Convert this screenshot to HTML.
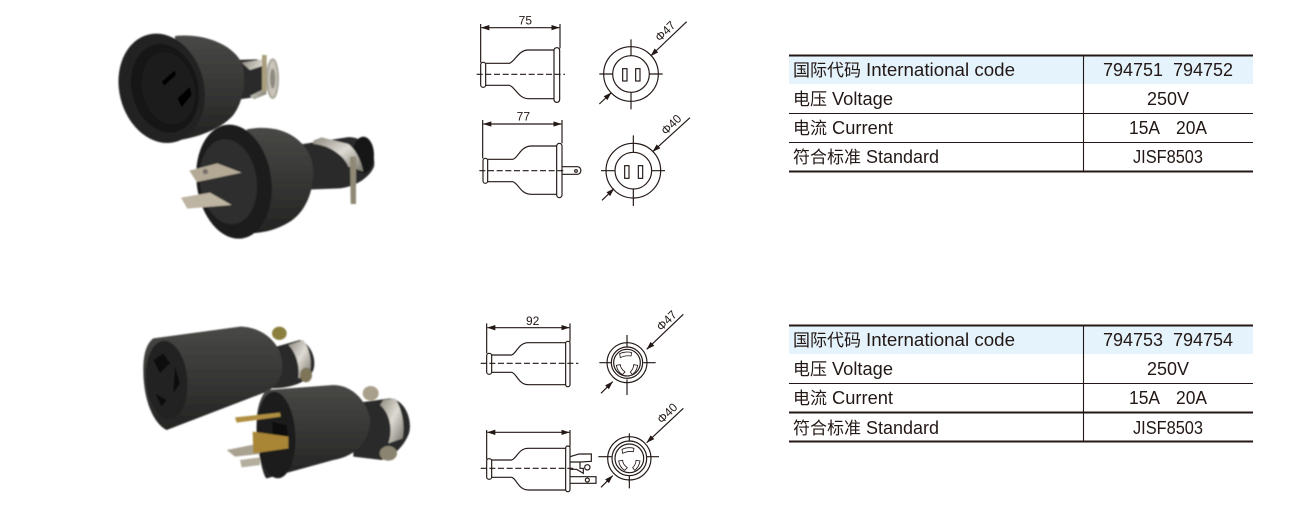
<!DOCTYPE html>
<html><head><meta charset="utf-8"><style>
html,body{margin:0;padding:0;background:#fff;width:1315px;height:508px;overflow:hidden}
svg{display:block}
.t{font-family:"Liberation Sans","Noto Sans CJK SC",sans-serif;font-size:18px;fill:#231815}
.c{font-family:"Noto Sans CJK SC",sans-serif;font-size:17px;fill:#231815}
.d{fill:none;stroke:#231815;stroke-width:3.5}
.th{stroke:#231815;stroke-width:1.1;fill:none}
.da{stroke-dasharray:18 8}
.l{font-family:"Liberation Sans",sans-serif;font-size:36px;fill:#231815;text-anchor:middle}
</style></head><body>
<svg width="1315" height="508" viewBox="0 0 1315 508" xmlns="http://www.w3.org/2000/svg">
<defs>
<marker id="a" markerWidth="26" markerHeight="18" refX="24" refY="9" orient="auto-start-reverse" markerUnits="userSpaceOnUse"><path d="M0 1L25 9L0 17z" fill="#231815"/></marker>
<linearGradient id="b" x1="0" y1="0" x2="0" y2="1"><stop offset="0" stop-color="#484846"/><stop offset=".45" stop-color="#383836"/><stop offset="1" stop-color="#232322"/></linearGradient>
<linearGradient id="m" x1="0" y1="0" x2="1" y2="1"><stop offset="0" stop-color="#8e8a80"/><stop offset=".5" stop-color="#dedbd3"/><stop offset="1" stop-color="#77736a"/></linearGradient>
<filter id="s"><feGaussianBlur stdDeviation="2.2"/></filter>
<g id="lk" class="d"><path d="M-22 -27C-10 -33 5 -33 14 -30L12 -20C0 -22 -10 -20 -20 -15z" stroke-width="2.5"/><path d="M-32 8C-30 20 -24 30 -14 36L-6 28C-14 22 -20 14 -20 6z" stroke-width="2.5"/><path d="M32 8C30 20 24 30 16 36L10 28C16 22 20 14 20 6z" stroke-width="2.5"/></g>
</defs>

<!-- photo 1 -->
<g transform="translate(100,20) scale(.33333)" filter="url(#s)">
<path d="M405 120L470 118L500 130L500 215L460 232L405 240z" fill="#2a2a29"/>
<path d="M425 128L490 118L495 135L450 150zM450 228L495 205L500 222L462 238z" fill="url(#m)"/>
<path d="M486 105H500V215H486z" fill="#a99f7e"/>
<ellipse cx="518" cy="176" rx="16" ry="58" fill="#c9c5ba" stroke="#aaa69c" stroke-width="6"/>
<ellipse cx="518" cy="176" rx="8" ry="30" fill="#8e8a80"/>
<path d="M225 48C300 40 385 65 420 120C445 170 430 245 400 285C365 325 300 352 225 362z" fill="url(#b)"/>
<ellipse cx="185" cy="205" rx="127" ry="166" transform="rotate(-14 185 205)" fill="#222221"/>
<ellipse cx="195" cy="205" rx="100" ry="135" transform="rotate(-14 195 205)" fill="#161616"/>
<ellipse cx="205" cy="205" rx="78" ry="110" transform="rotate(-14 205 205)" fill="#1f1f1f"/>
<path d="M185 185L225 150L228 165L192 198zM232 235L270 200L275 225L245 262z" fill="#050505"/>
<path d="M590 375L740 352C790 345 830 400 822 440C810 470 770 500 720 505L590 510z" fill="#2a2a29"/>
<ellipse cx="790" cy="405" rx="32" ry="55" fill="#171717"/>
<path d="M640 362L665 352L745 372C770 390 785 430 790 455L745 440C735 410 690 375 640 372z" fill="url(#m)"/>
<path d="M750 410H768V552H752z" fill="#8f8975"/>
<path d="M440 328C540 310 610 350 635 420C650 490 625 570 570 605C530 630 490 640 440 640z" fill="url(#b)"/>
<ellipse cx="402" cy="485" rx="112" ry="172" transform="rotate(-8 402 485)" fill="#1c1c1c"/>
<ellipse cx="385" cy="485" rx="85" ry="128" transform="rotate(-8 385 485)" fill="#2e2e2d"/>
<path d="M268 452L352 430L425 458L290 486z" fill="#b3a995"/>
<circle cx="316" cy="455" r="8" fill="#77706a"/>
<path d="M243 533L330 518L395 555L262 566z" fill="#bdb4a2"/>
</g>

<!-- photo 2 -->
<g transform="translate(120,310) scale(.33333)" filter="url(#s)">
<ellipse cx="478" cy="70" rx="22" ry="20" fill="#8a7f3e"/>
<path d="M450 115L540 90C575 105 590 150 580 180C565 215 520 235 450 235z" fill="#2a2a29"/>
<path d="M505 105L550 90C570 120 578 160 568 190L535 205C540 170 530 130 505 105z" fill="url(#m)"/>
<ellipse cx="558" cy="195" rx="18" ry="22" fill="#7e7458"/>
<path d="M100 85L360 50C420 50 470 90 482 135C495 180 480 225 440 245L140 360C100 340 70 270 70 180C70 130 80 100 100 85z" fill="url(#b)"/>
<ellipse cx="140" cy="210" rx="62" ry="118" transform="rotate(-5 140 210)" fill="#242423"/>
<path d="M100 150L130 130L150 160L120 190zM105 250L140 270L125 290zM165 170L180 220L160 250z" fill="#0a0a0a"/>
<path d="M700 280L810 265C860 270 880 340 865 375C850 410 820 440 785 450L700 440z" fill="#2a2a29"/>
<path d="M790 270L825 265C848 300 855 350 848 385L805 400C820 360 810 310 780 285z" fill="url(#m)"/>
<ellipse cx="752" cy="250" rx="24" ry="22" fill="#a8a08a"/>
<ellipse cx="805" cy="430" rx="26" ry="22" fill="#8a8570"/>
<path d="M440 240L640 225C700 225 745 280 750 330C750 400 700 440 640 450L440 505C430 500 410 420 410 340C410 280 430 250 440 240z" fill="url(#b)"/>
<ellipse cx="468" cy="375" rx="58" ry="130" transform="rotate(-3 468 375)" fill="#1b1b1b"/>
<path d="M345 322L480 308L482 320L350 338z" fill="#b08f42"/>
<path d="M320 420L410 402L420 432L345 440z" fill="#a9a291"/>
<path d="M360 450L420 442L420 465L365 472z" fill="#b4ae9e"/>
<path d="M455 335L500 345L505 380L460 385z" fill="#0c0c0c"/>
<path d="M398 365L505 380L505 415L400 430z" fill="#a88634"/>
</g>

<!-- drawing 1 & 2 -->
<g transform="translate(470,10) scale(.33333)">
<path class="d" d="M32 42V158M270 42V115"/>
<path class="d" d="M34 53H268" marker-start="url(#a)" marker-end="url(#a)"/>
<text class="l" x="166" y="43">75</text>
<rect class="d" x="32" y="157" width="15" height="75" rx="7"/>
<path class="d" d="M47 160H118C135 155 145 120 175 120H252M47 226H118C135 230 145 266 175 266H252"/>
<rect class="d" x="252" y="113" width="17" height="164" rx="8"/>
<path class="d da" d="M20 193H285"/>
<circle class="d" cx="483" cy="192" r="82"/><circle class="d" cx="483" cy="192" r="55"/>
<path class="d" d="M483 88V137M483 247V298M388 192H428M538 192H578"/>
<rect class="d" x="458" y="176" width="13" height="37"/><rect class="d" x="497" y="176" width="13" height="37"/>
<path class="d" d="M650 35L542 138" marker-end="url(#a)"/>
<path class="d" d="M388 282L424 248" marker-end="url(#a)"/>
<text class="l" x="586" y="76" transform="rotate(-45 586 64)">Φ47</text>

<path class="d" d="M38 330V445M276 330V400"/>
<path class="d" d="M40 342H274" marker-start="url(#a)" marker-end="url(#a)"/>
<text class="l" x="160" y="332">77</text>
<rect class="d" x="39" y="445" width="14" height="75" rx="7"/>
<path class="d" d="M53 448H128C145 445 150 408 185 408H260M53 515H128C145 518 150 553 185 553H260"/>
<rect class="d" x="260" y="400" width="16" height="163" rx="8"/>
<path class="d" d="M276 470H322C336 470 336 493 322 493H276"/><circle class="d" cx="318" cy="483" r="4"/>
<path class="d da" d="M28 482H285"/>
<circle class="d" cx="490" cy="482" r="82"/><circle class="d" cx="490" cy="482" r="55"/>
<path class="d" d="M490 376V427M490 537V588M393 482H435M545 482H585"/>
<rect class="d" x="464" y="467" width="13" height="38"/><rect class="d" x="505" y="467" width="13" height="38"/>
<path class="d" d="M660 323L548 425" marker-end="url(#a)"/>
<path class="d" d="M396 571L432 536" marker-end="url(#a)"/>
<text class="l" x="604" y="356" transform="rotate(-45 604 344)">Φ40</text>
</g>

<!-- drawing 3 & 4 -->
<g transform="translate(470,300) scale(.33333)">
<path class="d" d="M50 70V160M300 70V125"/>
<path class="d" d="M52 83H298" marker-start="url(#a)" marker-end="url(#a)"/>
<text class="l" x="188" y="75">92</text>
<rect class="d" x="50" y="160" width="15" height="63" rx="7"/>
<path class="d" d="M65 165H125C140 160 145 128 175 128H287M65 217H125C140 220 145 254 175 254H287"/>
<rect class="d" x="287" y="124" width="13" height="136" rx="6"/>
<path class="d da" d="M32 190H325"/>
<circle class="d" cx="471" cy="188" r="60"/><circle class="d" cx="471" cy="188" r="47"/><circle class="d" cx="471" cy="188" r="40"/>
<path class="d" d="M471 105V140M471 238V285M388 188H425M520 188H557"/>
<use href="#lk" x="471" y="188"/>
<path class="d" d="M640 43L530 148" marker-end="url(#a)"/>
<path class="d" d="M393 280L428 245" marker-end="url(#a)"/>
<text class="l" x="590" y="74" transform="rotate(-45 590 62)">Φ47</text>

<path class="d" d="M50 390V478M300 390V440"/>
<path class="d" d="M52 397H298" marker-start="url(#a)" marker-end="url(#a)"/>
<rect class="d" x="50" y="476" width="15" height="62" rx="7"/>
<path class="d" d="M65 480H125C140 476 145 445 175 445H287M65 532H125C140 536 145 570 175 570H287"/>
<rect class="d" x="287" y="438" width="13" height="137" rx="6"/>
<path class="d da" d="M32 505H310"/>
<path class="d" d="M300 470L327 462H364V484L330 486V505H340V520L320 508H300M300 530H378V550H300M300 486H330"/>
<circle class="d" cx="352" cy="502" r="8"/><circle class="d" cx="352" cy="540" r="6"/>
<circle class="d" cx="478" cy="475" r="65"/><circle class="d" cx="478" cy="475" r="52"/><circle class="d" cx="478" cy="475" r="43"/>
<path class="d" d="M478 400V425M478 528V565M385 470H425M530 470H567"/>
<use href="#lk" x="478" y="475"/>
<path class="d" d="M640 325L530 428" marker-end="url(#a)"/>
<path class="d" d="M393 562L428 527" marker-end="url(#a)"/>
<text class="l" x="592" y="352" transform="rotate(-45 592 340)">Φ40</text>
</g>

<!-- table 1 -->
<rect x="789" y="56" width="464" height="28" fill="#e5f3fc"/>
<path stroke="#231815" stroke-width="2" d="M789 55.5H1253M789 171.5H1253" fill="none"/>
<path class="th" d="M789 113.5H1253M789 142.5H1253M1083.5 55V171"/>
<text class="c" x="793" y="76">国际代码</text><text class="t" x="866" y="76" textLength="149" lengthAdjust="spacingAndGlyphs">International code</text>
<text class="c" x="793" y="105">电压</text><text class="t" x="832" y="105" textLength="61" lengthAdjust="spacingAndGlyphs">Voltage</text>
<text class="c" x="793" y="134">电流</text><text class="t" x="832" y="134" textLength="61" lengthAdjust="spacingAndGlyphs">Current</text>
<text class="c" x="793" y="163">符合标准</text><text class="t" x="866" y="163" textLength="73" lengthAdjust="spacingAndGlyphs">Standard</text>
<text class="t" x="1103" y="76" textLength="60" lengthAdjust="spacingAndGlyphs">794751</text><text class="t" x="1173" y="76" textLength="60" lengthAdjust="spacingAndGlyphs">794752</text>
<text class="t" x="1147" y="105" textLength="42" lengthAdjust="spacingAndGlyphs">250V</text>
<text class="t" x="1129" y="134" textLength="31" lengthAdjust="spacingAndGlyphs">15A</text><text class="t" x="1176" y="134" textLength="31" lengthAdjust="spacingAndGlyphs">20A</text>
<text class="t" x="1133" y="163" textLength="70" lengthAdjust="spacingAndGlyphs">JISF8503</text>

<!-- table 2 -->
<rect x="789" y="326" width="464" height="28" fill="#e5f3fc"/>
<path stroke="#231815" stroke-width="2" d="M789 325.5H1253M789 412.5H1253M789 441.5H1253" fill="none"/>
<path class="th" d="M789 383.5H1253M1083.5 325V441"/>
<text class="c" x="793" y="346">国际代码</text><text class="t" x="866" y="346" textLength="149" lengthAdjust="spacingAndGlyphs">International code</text>
<text class="c" x="793" y="375">电压</text><text class="t" x="832" y="375" textLength="61" lengthAdjust="spacingAndGlyphs">Voltage</text>
<text class="c" x="793" y="404">电流</text><text class="t" x="832" y="404" textLength="61" lengthAdjust="spacingAndGlyphs">Current</text>
<text class="c" x="793" y="434">符合标准</text><text class="t" x="866" y="434" textLength="73" lengthAdjust="spacingAndGlyphs">Standard</text>
<text class="t" x="1103" y="346" textLength="60" lengthAdjust="spacingAndGlyphs">794753</text><text class="t" x="1173" y="346" textLength="60" lengthAdjust="spacingAndGlyphs">794754</text>
<text class="t" x="1147" y="375" textLength="42" lengthAdjust="spacingAndGlyphs">250V</text>
<text class="t" x="1129" y="404" textLength="31" lengthAdjust="spacingAndGlyphs">15A</text><text class="t" x="1176" y="404" textLength="31" lengthAdjust="spacingAndGlyphs">20A</text>
<text class="t" x="1133" y="434" textLength="70" lengthAdjust="spacingAndGlyphs">JISF8503</text>
</svg>
</body></html>
